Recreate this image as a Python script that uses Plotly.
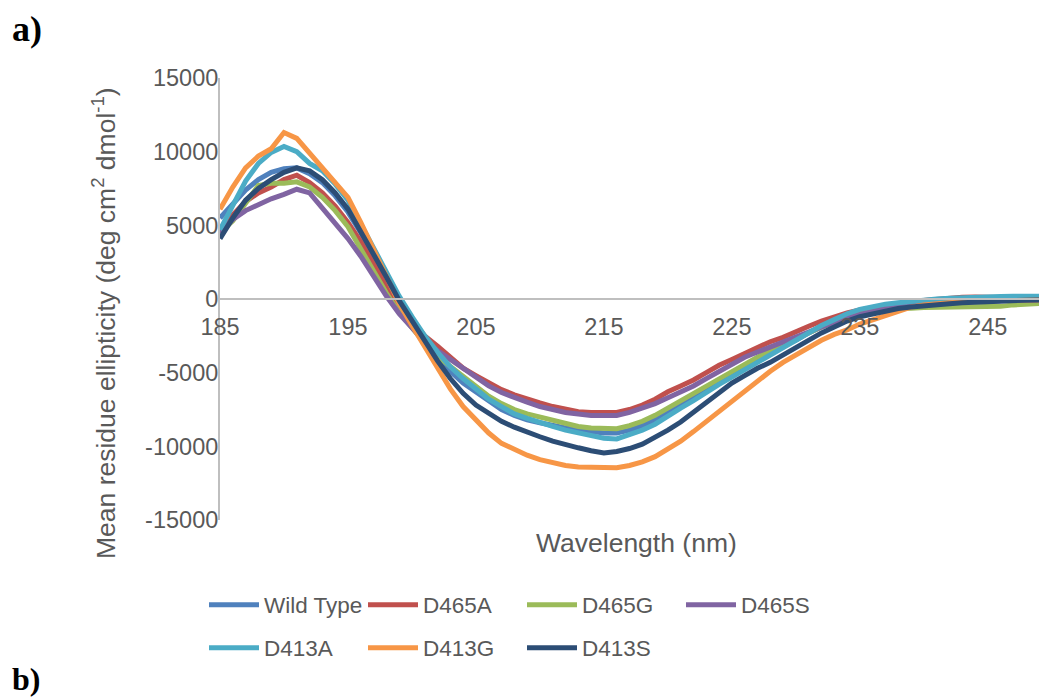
import plotly.graph_objects as go

wavelength = list(range(185, 251))

wild_type = [5500, 6500, 7400, 8100, 8600, 8850, 8900, 8500, 7900, 7000,
             5900, 4500, 3000, 1400, -100, -1500, -2800, -3900, -4900, -5700,
             -6300, -6900, -7500, -7900, -8200, -8400, -8600, -8750, -8900, -9000,
             -9100, -9100, -8900, -8600, -8200, -7700, -7200, -6700, -6200, -5700,
             -5200, -4700, -4200, -3700, -3200, -2800, -2300, -1900, -1500, -1200,
             -900, -700, -500, -350, -250, -150, -100, -50, 0, 20,
             40, 60, 80, 100, 100, 100]

d465a = [4600, 5700, 6600, 7200, 7600, 8100, 8400, 7900, 7200, 6300,
         5200, 3900, 2400, 900, -400, -1500, -2500, -3200, -4000, -4700,
         -5200, -5700, -6150, -6500, -6800, -7050, -7300, -7500, -7650, -7700,
         -7700, -7700, -7500, -7200, -6800, -6300, -5900, -5500, -5000, -4500,
         -4100, -3700, -3350, -2900, -2600, -2200, -1850, -1500, -1200, -950,
         -750, -600, -450, -300, -200, -100, -20, 50, 120, 130,
         130, 130, 120, 100, 80, 60]

d465g = [4500, 5300, 6500, 7700, 7850, 7850, 7950, 7600, 6900, 6000,
         4900, 3400, 1900, 400, -900, -2000, -3000, -3900, -4600, -5200,
         -5900, -6600, -7100, -7500, -7800, -8000, -8200, -8450, -8650, -8750,
         -8800, -8800, -8600, -8300, -7900, -7400, -6900, -6400, -5900, -5400,
         -4900, -4400, -3950, -3500, -3100, -2700, -2300, -1900, -1600, -1300,
         -1050, -850, -750, -680, -620, -580, -560, -550, -540, -540,
         -530, -500, -400, -330, -280, -250]

d465s = [4500, 5400, 6000, 6400, 6800, 7100, 7450, 7200, 6200, 5200,
         4100, 2900, 1500, 200, -1000, -2000, -2900, -3500, -4100, -4800,
         -5400, -5900, -6350, -6700, -7000, -7300, -7500, -7700, -7800, -7900,
         -7900, -7900, -7700, -7400, -7100, -6700, -6300, -5900, -5400, -4900,
         -4400, -3950, -3600, -3250, -2950, -2600, -2250, -1900, -1600, -1300,
         -1050, -850, -650, -500, -400, -320, -260, -220, -180, -150,
         -120, -100, -80, -60, -50, -40]

d413a = [4700, 6400, 8000, 9200, 9950, 10350, 10000, 9200, 8700, 7800,
         6700, 5100, 3500, 1900, 200, -1200, -2500, -3600, -4600, -5400,
         -6100, -6800, -7300, -7800, -8100, -8400, -8650, -8900, -9100, -9300,
         -9450, -9500, -9200, -8900, -8500, -7900, -7400, -6900, -6300, -5800,
         -5300, -4800, -4300, -3800, -3300, -2800, -2300, -1800, -1400, -1000,
         -700, -500, -350, -250, -150, -50, 0, 50, 100, 130,
         150, 170, 180, 190, 200, 200]

d413g = [6100, 7600, 8900, 9700, 10200, 11300, 10900, 9900, 9000, 8000,
         6900, 5200, 3400, 1500, -300, -1800, -3200, -4700, -6100, -7300,
         -8200, -9100, -9800, -10200, -10600, -10900, -11100, -11300, -11400, -11400,
         -11450, -11450, -11300, -11050, -10700, -10200, -9650, -9000, -8300, -7600,
         -7000, -6300, -5600, -4900, -4300, -3800, -3300, -2800, -2400, -2100,
         -1700, -1400, -1100, -800, -550, -400, -300, -250, -200, -150,
         -130, -110, -100, -80, -70, -60]

d413s = [4100, 5500, 6700, 7500, 8100, 8600, 8900, 8700, 8100, 7200,
         6100, 4600, 3100, 1500, -100, -1500, -2900, -4200, -5400, -6400,
         -7200, -7800, -8300, -8700, -9050, -9350, -9650, -9900, -10100, -10300,
         -10450, -10350, -10150, -9850, -9400, -8900, -8350, -7700, -7050, -6350,
         -5700, -5200, -4700, -4300, -3800, -3300, -2800, -2300, -1900, -1500,
         -1200, -1000, -800, -650, -550, -450, -380, -320, -260, -210,
         -170, -140, -110, -80, -60, -50]

series_names = ["Wild Type", "D465A", "D465G", "D465S", "D413A", "D413G", "D413S"]
series_values = [wild_type, d465a, d465g, d465s, d413a, d413g, d413s]
colors = ["#4F81BD", "#C0504D", "#9BBB59", "#8064A2", "#4BACC6", "#F79646", "#2C4D75"]
legend_ids = ["legend", "legend", "legend", "legend", "legend2", "legend2", "legend2"]

x_ticks = [185, 195, 205, 215, 225, 235, 245]
y_ticks = [-15000, -10000, -5000, 0, 5000, 10000, 15000]
y_tick_labels = ["-15000", "-10000", "-5000", "0", "5000", "10000", "15000"]

FONT = "Liberation Sans, Arial, sans-serif"
GRAY = "#595959"
AXIS = "#BFBFBF"

fig = go.Figure()
for name, vals, col, lg in zip(series_names, series_values, colors, legend_ids):
    fig.add_trace(go.Scatter(x=wavelength, y=vals, name=name, mode="lines",
                             line=dict(color=col, width=5),
                             legend=lg))

W, H = 1039, 698
L, R, T, B = 220, 0, 78, 178
pw, ph = W - L - R, H - T - B

def px(x):
    return (x - L) / pw

def py(y):
    return (H - B - y) / ph

legend_common = dict(orientation="h", font=dict(family=FONT, size=22.5, color=GRAY),
                     entrywidth=94, entrywidthmode="pixels",
                     xanchor="left", yanchor="middle", bgcolor="rgba(0,0,0,0)",
                     itemwidth=50, tracegroupgap=0)

fig.update_layout(
    width=W, height=H,
    margin=dict(l=L, r=R, t=T, b=B),
    plot_bgcolor="white", paper_bgcolor="white",
    font=dict(family=FONT, size=23, color=GRAY),
    showlegend=True,
    legend=dict(x=px(204), y=py(605), **legend_common),
    legend2=dict(x=px(204), y=py(648), **legend_common),
    xaxis=dict(range=[185, 249], tickmode="array", tickvals=x_ticks,
               ticktext=[str(v) for v in x_ticks],
               showgrid=False, zeroline=False, showline=True,
               linecolor=AXIS, linewidth=2, anchor="free", position=0.5,
               ticks="", ticklabelstandoff=7,
               tickfont=dict(family=FONT, size=23.5, color=GRAY)),
    yaxis=dict(range=[-15000, 15000], tickmode="array", tickvals=y_ticks,
               ticktext=y_tick_labels,
               showgrid=False, zeroline=False, showline=True,
               linecolor=AXIS, linewidth=2, ticks="", ticklabelstandoff=-5,
               tickfont=dict(family=FONT, size=23.5, color=GRAY)),
    annotations=[
        dict(text="<b>a)</b>", x=px(10), y=py(29), xref="paper", yref="paper",
             xanchor="left", yanchor="middle", showarrow=False,
             font=dict(family="Liberation Serif, Times New Roman, serif", size=36, color="black")),
        dict(text="<b>b)</b>", x=px(10), y=py(679), xref="paper", yref="paper",
             xanchor="left", yanchor="middle", showarrow=False,
             font=dict(family="Liberation Serif, Times New Roman, serif", size=32, color="black")),
        dict(text="Mean residue ellipticity (deg cm<sup>2</sup> dmol<sup>-1</sup>)",
             x=px(104), y=py(323), xref="paper", yref="paper", textangle=-90,
             xanchor="center", yanchor="middle", showarrow=False,
             font=dict(family=FONT, size=26.5, color=GRAY)),
        dict(text="Wavelength (nm)", x=px(636), y=py(543), xref="paper", yref="paper",
             xanchor="center", yanchor="middle", showarrow=False,
             font=dict(family=FONT, size=26.5, color=GRAY)),
    ],
)

fig.write_html("out.html")
